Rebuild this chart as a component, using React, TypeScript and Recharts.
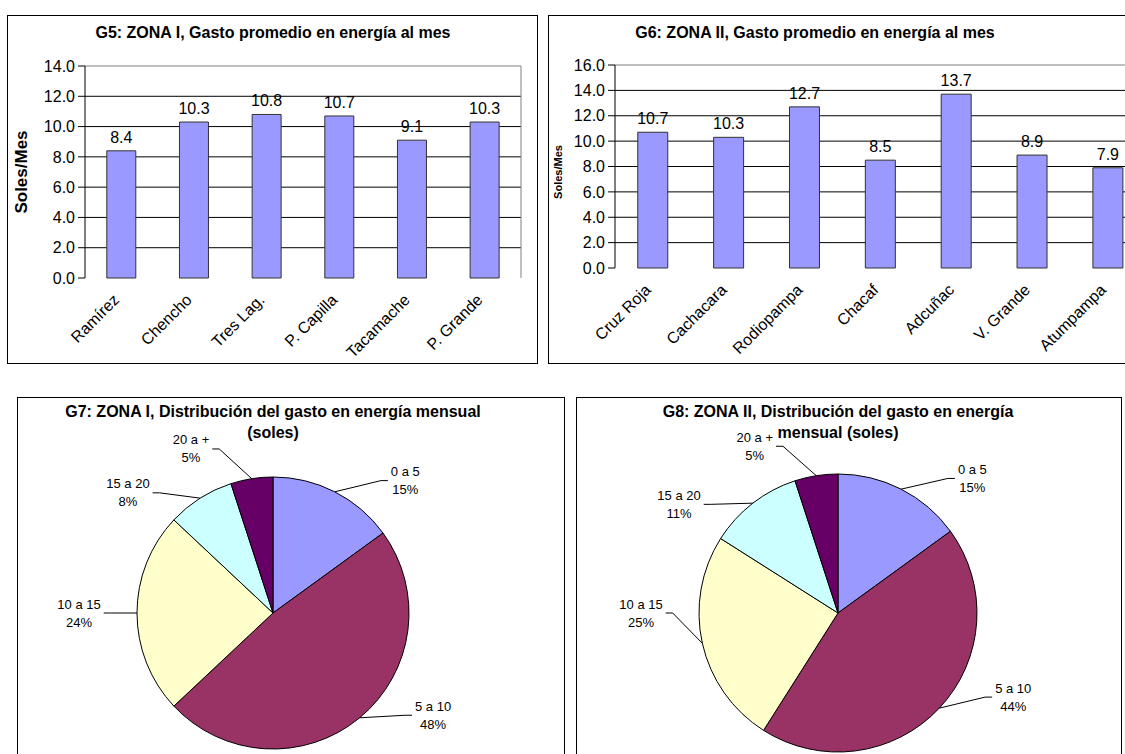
import React from 'react'
import {
  BarChart,
  Bar,
  XAxis,
  YAxis,
  CartesianGrid,
  LabelList,
  PieChart,
  Pie,
  Cell,
} from 'recharts'

const FONT = '"Liberation Sans", Arial, sans-serif'

// G5 / G6: gasto promedio (soles/mes)
const zona1Places = ['Ramírez', 'Chencho', 'Tres Lag.', 'P. Capilla', 'Tacamache', 'P. Grande']
const zona1Gasto = [8.4, 10.3, 10.8, 10.7, 9.1, 10.3]
const zona1Ticks = [0, 2, 4, 6, 8, 10, 12, 14]

const zona2Places = ['Cruz Roja', 'Cachacara', 'Rodiopampa', 'Chacaf', 'Adcuñac', 'V. Grande', 'Atumpampa']
const zona2Gasto = [10.7, 10.3, 12.7, 8.5, 13.7, 8.9, 7.9]
const zona2Ticks = [0, 2, 4, 6, 8, 10, 12, 14, 16]

// G7 / G8: distribución del gasto (%)
const rangos = ['0 a 5', '5 a 10', '10 a 15', '15 a 20', '20 a +']
const zona1Dist = [15, 48, 24, 8, 5]
const zona2Dist = [15, 44, 25, 11, 5]
const rangoColors = ['#9999FF', '#993366', '#FFFFCC', '#CCFFFF', '#660066']

const RAD = Math.PI / 180

function textWidth(s: string, fs: number): number {
  let w = 0
  for (const ch of s) {
    if (ch === ' ') w += 0.278
    else if (ch === '%') w += 0.889
    else if (ch === '+') w += 0.584
    else w += 0.556
  }
  return w * fs
}

function CategoryTick({ x, y, payload }: any) {
  const tx = x - 5
  const ty = y + 19
  return (
    <text
      x={tx}
      y={ty}
      transform={`rotate(-45 ${tx} ${ty})`}
      textAnchor="end"
      dominantBaseline="central"
      fontSize={16}
      fontFamily={FONT}
      fill="#000"
    >
      {payload.value}
    </text>
  )
}

interface GastoProps {
  places: string[]
  values: number[]
  ticks: number[]
  width: number
  height: number
  top: number
  right: number
  bottom: number
  yWidth: number
}

function GastoChart({ places, values, ticks, width, height, top, right, bottom, yWidth }: GastoProps) {
  const data = places.map((place, i) => ({ place, value: values[i] }))
  const max = ticks[ticks.length - 1]
  const edges = places.map((_, i) => i).concat(places.length)
  return (
    <BarChart
      width={width}
      height={height}
      data={data}
      margin={{ top, right, bottom: 5, left: 10 }}
      barCategoryGap="30%"
    >
      <CartesianGrid
        xAxisId="cat"
        vertical={false}
        stroke="#000"
        horizontalValues={ticks.filter((t) => t > 0 && t < max)}
      />
      <CartesianGrid
        xAxisId="cat"
        stroke="#808080"
        horizontalValues={[max]}
        verticalCoordinatesGenerator={({ offset }: any) => [offset.left + offset.width]}
      />
      <XAxis
        xAxisId="edge"
        type="number"
        domain={[0, places.length]}
        ticks={edges}
        tick={false}
        tickSize={6}
        height={0}
        axisLine={{ stroke: '#000' }}
        tickLine={{ stroke: '#000' }}
      />
      <XAxis
        xAxisId="cat"
        dataKey="place"
        axisLine={false}
        tickLine={false}
        tickSize={0}
        tickMargin={0}
        interval={0}
        height={bottom - 5}
        tick={<CategoryTick />}
      />
      <YAxis
        domain={[0, max]}
        ticks={ticks}
        width={yWidth}
        tickFormatter={(v: number) => v.toFixed(1)}
        tick={{ fontSize: 16, fill: '#000', fontFamily: FONT }}
        tickSize={7}
        tickMargin={3}
        axisLine={{ stroke: '#000' }}
        tickLine={{ stroke: '#000' }}
      />
      <Bar xAxisId="cat" dataKey="value" fill="#9999FF" stroke="#333" strokeWidth={1} isAnimationActive={false}>
        <LabelList
          dataKey="value"
          position="top"
          offset={8}
          formatter={(v: any) => Number(v).toFixed(1)}
          style={{ fontSize: 16, fill: '#000', fontFamily: FONT }}
        />
      </Bar>
    </BarChart>
  )
}

function PieLabel(props: any) {
  const { cx, cy, midAngle, outerRadius, value } = props
  const name = props.name ?? props.payload?.rango
  const fs = 13
  // clockwise angle from 12 o'clock
  const a = (((90 - midAngle) % 360) + 360) % 360
  const target = a < 180 ? 90 : 270
  const delta = target - a
  const la = a + Math.sign(delta) * Math.min(16, Math.abs(delta))
  const lx = cx + (outerRadius + 58) * Math.sin(la * RAD)
  const ly = cy - (outerRadius + 45) * Math.cos(la * RAD)
  const ex = cx + outerRadius * Math.sin(a * RAD)
  const ey = cy - outerRadius * Math.cos(a * RAD)
  const side = lx >= cx ? 1 : -1
  const pct = `${value}%`
  const half = Math.max(textWidth(name, fs), textWidth(pct, fs)) / 2
  const tx = lx - side * (half + 3)
  const bx = tx - side * 7
  return (
    <g>
      <polyline points={`${ex},${ey} ${bx},${ly} ${tx},${ly}`} fill="none" stroke="#000" strokeWidth={1} />
      <text x={lx} y={ly - 9} textAnchor="middle" dominantBaseline="central" fontSize={fs} fontFamily={FONT} fill="#000">
        {name}
      </text>
      <text x={lx} y={ly + 9} textAnchor="middle" dominantBaseline="central" fontSize={fs} fontFamily={FONT} fill="#000">
        {pct}
      </text>
    </g>
  )
}

function DistChart({ values, width, height, cx, cy, r }: any) {
  const data = rangos.map((rango, i) => ({ rango, value: values[i] }))
  return (
    <PieChart width={width} height={height} margin={{ top: 0, right: 0, bottom: 0, left: 0 }}>
      <Pie
        data={data}
        dataKey="value"
        nameKey="rango"
        cx={cx}
        cy={cy}
        outerRadius={r}
        startAngle={90}
        endAngle={-270}
        stroke="#000"
        strokeWidth={1}
        labelLine={false}
        label={PieLabel}
        isAnimationActive={false}
      >
        {data.map((d, i) => (
          <Cell key={d.rango} fill={rangoColors[i]} />
        ))}
      </Pie>
    </PieChart>
  )
}

const panel = (left: number, top: number, width: number, height: number): React.CSSProperties => ({
  position: 'absolute',
  left,
  top,
  width,
  height,
  border: '1px solid #000',
  boxSizing: 'border-box',
})

const at = (left: number, top: number): React.CSSProperties => ({ position: 'absolute', left, top })

function Title({ cx, top, lines }: { cx: number; top: number; lines: string[] }) {
  return (
    <div
      style={{
        position: 'absolute',
        left: cx - 300,
        top,
        width: 600,
        textAlign: 'center',
        fontWeight: 'bold',
        fontSize: 16,
        lineHeight: '21px',
        whiteSpace: 'nowrap',
      }}
    >
      {lines.map((l) => (
        <div key={l}>{l}</div>
      ))}
    </div>
  )
}

function YLabel({ cx, cy, size }: { cx: number; cy: number; size: number }) {
  return (
    <div
      style={{
        position: 'absolute',
        left: cx - 60,
        top: cy - 10,
        width: 120,
        height: 20,
        lineHeight: '20px',
        textAlign: 'center',
        fontWeight: 'bold',
        fontSize: size,
        transform: 'rotate(-90deg)',
      }}
    >
      Soles/Mes
    </div>
  )
}

export default function App() {
  return (
    <div
      style={{
        position: 'absolute',
        left: 0,
        top: 0,
        width: 1125,
        height: 754,
        overflow: 'hidden',
        background: '#fff',
        fontFamily: FONT,
        color: '#000',
      }}
    >
      <div style={panel(7, 15, 531, 349)} />
      <div style={panel(548, 15, 700, 349)} />
      <div style={panel(17, 397, 548, 400)} />
      <div style={panel(576, 397, 546, 400)} />

      <div style={at(8, 16)}>
        <GastoChart
          places={zona1Places}
          values={zona1Gasto}
          ticks={zona1Ticks}
          width={528}
          height={347}
          top={50}
          right={15}
          bottom={85}
          yWidth={67}
        />
      </div>
      <div style={at(549, 16)}>
        <GastoChart
          places={zona2Places}
          values={zona2Gasto}
          ticks={zona2Ticks}
          width={600}
          height={347}
          top={49}
          right={3}
          bottom={95}
          yWidth={56}
        />
      </div>
      <Title cx={273} top={22} lines={['G5: ZONA I, Gasto promedio en energía al mes']} />
      <Title cx={815} top={22} lines={['G6: ZONA II, Gasto promedio en energía al mes']} />
      <YLabel cx={22} cy={172} size={17} />
      <YLabel cx={558} cy={172} size={11} />

      <div style={at(18, 398)}>
        <DistChart values={zona1Dist} width={545} height={356} cx={255} cy={215} r={136} />
      </div>
      <div style={at(577, 398)}>
        <DistChart values={zona2Dist} width={544} height={356} cx={261} cy={215} r={139} />
      </div>
      <Title cx={273} top={401} lines={['G7: ZONA I, Distribución del gasto en energía mensual', '(soles)']} />
      <Title cx={838} top={401} lines={['G8: ZONA II, Distribución del gasto en energía', 'mensual (soles)']} />
    </div>
  )
}
